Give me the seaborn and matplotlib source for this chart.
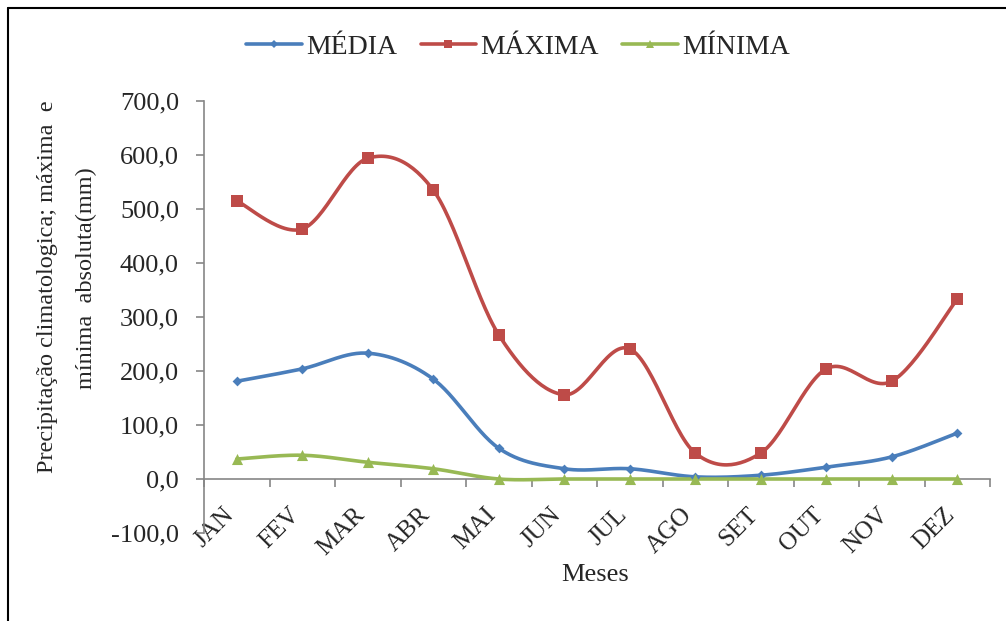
import numpy as np
import matplotlib
matplotlib.use("Agg")
import matplotlib.pyplot as plt
import matplotlib.transforms as mtransforms
from matplotlib.lines import Line2D
import seaborn as sns
import pandas as pd

months = ["JAN", "FEV", "MAR", "ABR", "MAI", "JUN", "JUL", "AGO", "SET", "OUT", "NOV", "DEZ"]
media = [181, 204, 233, 185, 57, 19, 19, 4, 7, 22, 41, 85]
maxima = [515, 463, 594, 535, 267, 156, 241, 48, 48, 204, 181, 333]
minima = [37, 44, 31, 19, 0, 0, 0, 0, 0, 0, 0, 0]
y_ticks = [-100, 0, 100, 200, 300, 400, 500, 600, 700]

series = [("MÉDIA", media, "#4A7EBB", "D", 5),
          ("MÁXIMA", maxima, "#BE4B48", "s", 8),
          ("MÍNIMA", minima, "#98B954", "^", 8)]

sns.set_theme(style="white")
plt.rcParams["font.family"] = ["Liberation Serif", "DejaVu Serif"]


def smooth(x, y, n=30):
    # Bezier smoothing as in spreadsheet "smoothed line"
    x = np.asarray(x, float)
    y = np.asarray(y, float)
    P = np.column_stack([x, y])
    P = np.vstack([P[0], P, P[-1]])
    out = []
    t = np.linspace(0, 1, n)[:, None]
    for i in range(1, len(P) - 2):
        p0, p1, p2, p3 = P[i - 1], P[i], P[i + 1], P[i + 2]
        c1 = p1 + (p2 - p0) / 6.0
        c2 = p2 - (p3 - p1) / 6.0
        seg = ((1 - t) ** 3) * p1 + 3 * ((1 - t) ** 2) * t * c1 + 3 * (1 - t) * t ** 2 * c2 + t ** 3 * p2
        out.append(seg if i == 1 else seg[1:])
    out = np.vstack(out)
    return out[:, 0], out[:, 1]


fig = plt.figure(figsize=(10.06, 6.21), dpi=100)
ax = fig.add_axes([204 / 1006, 1 - 533 / 621, (990 - 204) / 1006, (533 - 101) / 621])

xs = np.arange(len(months))
handles = []
for name, vals, color, marker, ms in series:
    sx, sy = smooth(xs, vals)
    df = pd.DataFrame({"x": sx, "y": sy})
    sns.lineplot(data=df, x="x", y="y", ax=ax, color=color, linewidth=2.6, sort=False,
                 estimator=None, zorder=3)
    dfp = pd.DataFrame({"x": xs, "y": vals})
    sns.scatterplot(data=dfp, x="x", y="y", ax=ax, color=color, marker=marker, s=ms ** 2,
                    edgecolor=color, linewidth=0, zorder=4)
    handles.append(Line2D([0], [0], color=color, linewidth=2.6, marker=marker,
                          markersize=ms * 0.75, markeredgewidth=0, label=name))

ax.set_xlim(-0.5, len(months) - 0.5)
ax.set_ylim(-100, 700)
ax.set_yticks(y_ticks)
ax.set_yticklabels([f"{v:.1f}".replace(".", ",") for v in y_ticks], fontsize=19)

# x axis at zero
for s in ["top", "right"]:
    ax.spines[s].set_visible(False)
ax.spines["bottom"].set_position(("data", 0))
for s in ["left", "bottom"]:
    ax.spines[s].set_color("#868686")
    ax.spines[s].set_linewidth(1.2)

ax.set_xticks(np.arange(-0.5, len(months), 1.0))
ax.set_xticklabels([])
ax.set_xticks(xs, minor=True)
ax.set_xticklabels(months, minor=True, rotation=45, ha="right", va="top",
                   rotation_mode="anchor", fontsize=18)
ax.tick_params(axis="x", which="major", direction="out", length=6, color="#868686", width=1.2, bottom=True)
ax.tick_params(axis="x", which="minor", length=0, pad=18, bottom=True)
ax.tick_params(axis="y", direction="out", length=6, color="#868686", width=1.2, left=True, pad=12)
offset = mtransforms.ScaledTranslation(-14 / 100, 0, fig.dpi_scale_trans)
for lab in ax.xaxis.get_minorticklabels():
    lab.set_transform(lab.get_transform() + offset)

ax.set_xlabel("")
ax.set_ylabel("")
ax.grid(False)

fig.text(595 / 1006, 1 - 575 / 621, "Meses", ha="center", va="center", fontsize=19)
fig.text(48 / 1006, 1 - 287 / 621, "Precipitação climatologica; máxima  e", rotation=90,
         ha="center", va="center", fontsize=17.5)
fig.text(86 / 1006, 1 - 278 / 621, "mínima  absoluta(mm)", rotation=90,
         ha="center", va="center", fontsize=17.5)

fig.legend(handles=handles, loc="center", bbox_to_anchor=(518 / 1006, 1 - 47 / 621), ncol=3,
           frameon=False, fontsize=20, handlelength=2.0, handletextpad=0.15, columnspacing=0.85)

# outer frame (top and left visible)
fig.add_artist(Line2D([8 / 1006, 8 / 1006], [0, 1 - 8 / 621], transform=fig.transFigure, color="black", linewidth=1.5))
fig.add_artist(Line2D([8 / 1006, 1], [1 - 8 / 621, 1 - 8 / 621], transform=fig.transFigure, color="black", linewidth=1.5))

fig.savefig("out.png", dpi=100, facecolor="white")
